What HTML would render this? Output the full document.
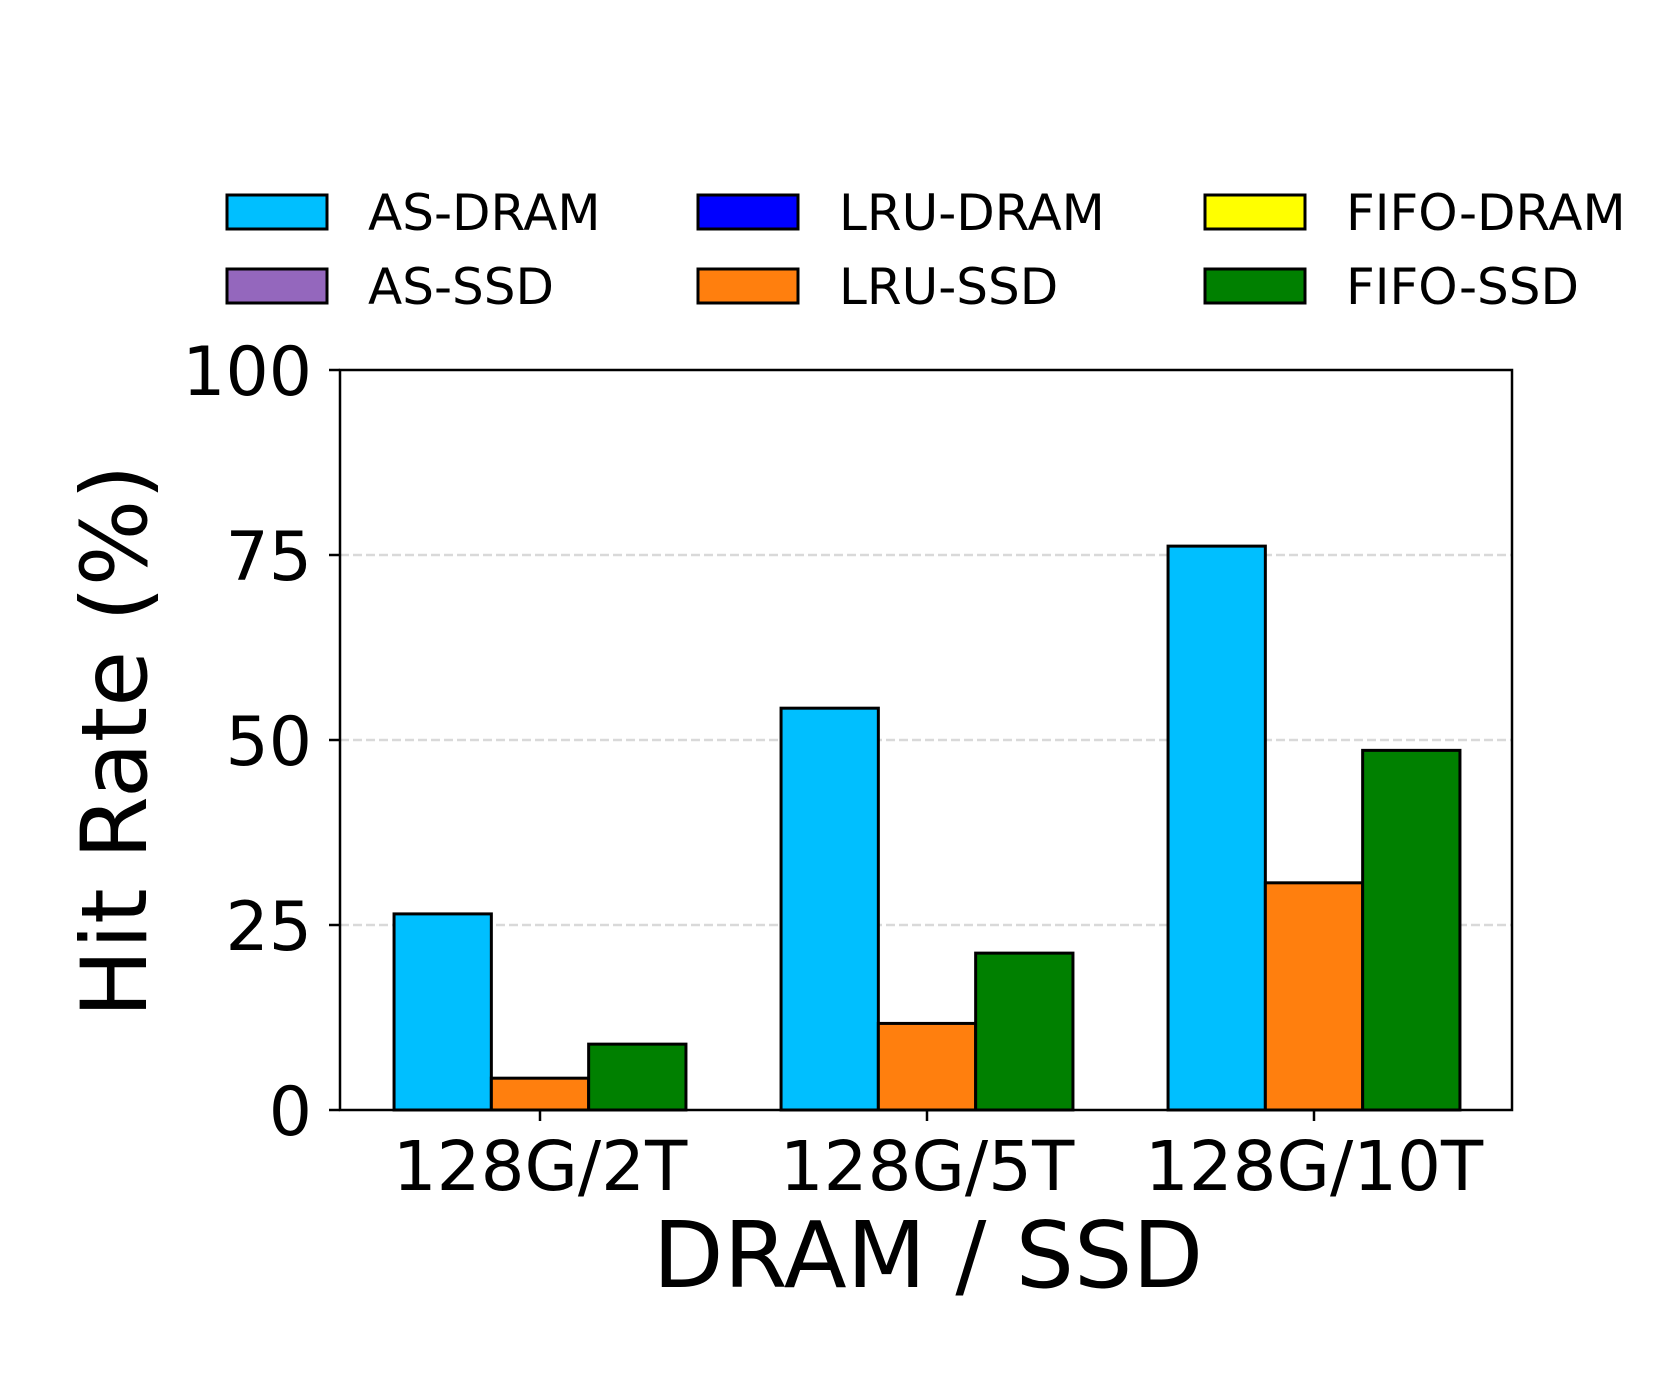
<!DOCTYPE html>
<html><head><meta charset="utf-8"><style>
body{margin:0;background:#fff}
svg text{font-family:"DejaVu Sans","Liberation Sans",sans-serif;fill:#000}
</style></head><body>
<svg id="chart" width="1661" height="1384" viewBox="0 0 1661 1384" xmlns="http://www.w3.org/2000/svg">
<g id="legend"></g>
<g id="grid"></g>
<g id="bars"></g>
<g id="axes"></g>
<text transform="translate(146,741) rotate(-90)" text-anchor="middle" font-size="91">Hit Rate (%)</text>
<text x="928" y="1287" text-anchor="middle" font-size="92">DRAM / SSD</text>
</svg>
<script>
const categories = ["128G/2T", "128G/5T", "128G/10T"];
const asDram = [26.5, 54.3, 76.2];
const lruSsd = [4.3, 11.7, 30.7];
const fifoSsd = [8.9, 21.2, 48.6];
const yTicks = [0, 25, 50, 75, 100];
const legendNames = ["AS-DRAM","LRU-DRAM","FIFO-DRAM","AS-SSD","LRU-SSD","FIFO-SSD"];
const legendColors = ["#00bfff","#0000ff","#ffff00","#9467bd","#ff7f0e","#008000"];

const NS = "http://www.w3.org/2000/svg";
const L = 340, R = 1512, T = 370, B = 1110;
const y = v => B - (v / 100) * (B - T);
const groupCenters = [540, 927, 1314];
const x = i => groupCenters[i];
const bw = 97.3;
function mk(tag, attrs, parent) {
  const e = document.createElementNS(NS, tag);
  for (const k in attrs) e.setAttribute(k, attrs[k]);
  parent.appendChild(e);
  return e;
}
const grid = document.getElementById('grid');
const axes = document.getElementById('axes');
const bars = document.getElementById('bars');
const legend = document.getElementById('legend');

yTicks.forEach(t => {
  if (t > 0 && t < 100) {
    const g = mk('line', {x1: L, x2: R, y1: y(t), y2: y(t), stroke: '#d9d9d9', 'stroke-width': 2.5, 'stroke-dasharray': '9,4'}, grid);
    
    
  }
  const tk = mk('line', {x1: L - 11, x2: L, y1: y(t), y2: y(t), stroke: '#000', 'stroke-width': 2.5}, axes);
  
  
  const lb = mk('text', {x: 312, y: y(t) + 25, 'text-anchor': 'end', 'font-size': 68}, axes);
  lb.textContent = t;
  
  
});

const series = [[asDram, '#00bfff', 'as-dram'], [lruSsd, '#ff7f0e', 'lru-ssd'], [fifoSsd, '#008000', 'fifo-ssd']];
categories.forEach((c, i) => {
  series.forEach((s, j) => {
    const v = s[0][i];
    const bx = x(i) - 1.5 * bw + j * bw;
    const r = mk('rect', {x: bx, y: y(v), width: bw, height: y(0) - y(v), fill: s[1], stroke: '#000', 'stroke-width': 3}, bars);
    
    
  });
  const tk = mk('line', {x1: x(i), x2: x(i), y1: B, y2: B + 11, stroke: '#000', 'stroke-width': 2.5}, axes);
  
  
  const lb = mk('text', {x: x(i), y: 1190, 'text-anchor': 'middle', 'font-size': 69}, axes);
  lb.textContent = c;
  
  
});
const frame = mk('rect', {x: L, y: T, width: R - L, height: B - T, fill: 'none', stroke: '#000', 'stroke-width': 2.5}, axes);



const colX = [227, 698, 1205], rowY = [212, 286];
legendNames.forEach((n, k) => {
  const col = k % 3, row = Math.floor(k / 3);
  const p = mk('rect', {x: colX[col], y: rowY[row] - 17, width: 100, height: 34, fill: legendColors[k], stroke: '#000', 'stroke-width': 3}, legend);
  
  
  const t = mk('text', {x: colX[col] + 141, y: rowY[row] + 18, 'font-size': 50}, legend);
  t.textContent = n;
  
  
});
</script>
</body></html>
